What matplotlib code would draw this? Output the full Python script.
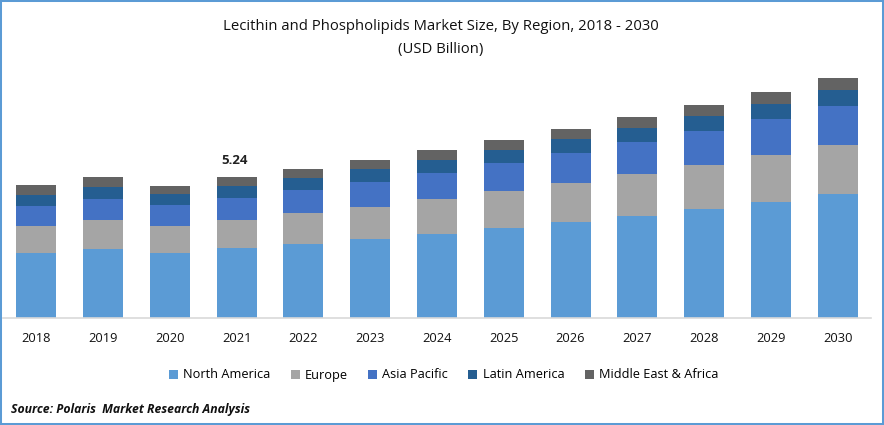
import matplotlib
matplotlib.use('Agg')
import matplotlib.pyplot as plt
import numpy as np
from matplotlib.patches import Rectangle

plt.rcParams['font.family'] = ['Open Sans', 'DejaVu Sans']

YEARS = ['2018', '2019', '2020', '2021', '2022', '2023', '2024', '2025', '2026', '2027', '2028', '2029', '2030']
NORTH_AMERICA = [2.42, 2.56, 2.42, 2.60, 2.75, 2.94, 3.12, 3.34, 3.57, 3.79, 4.05, 4.31, 4.61]
EUROPE = [1.00, 1.08, 1.00, 1.04, 1.15, 1.19, 1.30, 1.37, 1.45, 1.56, 1.64, 1.75, 1.82]
ASIA_PACIFIC = [0.74, 0.78, 0.78, 0.82, 0.85, 0.93, 0.97, 1.04, 1.11, 1.19, 1.26, 1.34, 1.45]
LATIN_AMERICA = [0.41, 0.45, 0.41, 0.45, 0.45, 0.48, 0.48, 0.48, 0.52, 0.52, 0.56, 0.56, 0.59]
MIDDLE_EAST = [0.37, 0.37, 0.30, 0.33, 0.33, 0.33, 0.37, 0.37, 0.37, 0.41, 0.41, 0.45, 0.45]

SERIES = [NORTH_AMERICA, EUROPE, ASIA_PACIFIC, LATIN_AMERICA, MIDDLE_EAST]
LABELS = ['North America', 'Europe', 'Asia Pacific', 'Latin America', 'Middle East & Africa']
COLORS = ['#5B9BD5', '#A5A5A5', '#4472C4', '#255E91', '#636363']
BORDER = '#5B9BD5'
W, H = 884, 425

fig = plt.figure(figsize=(W / 100, H / 100), dpi=100)
ax = fig.add_axes([3 / W, 1 - 318 / H, 868 / W, 268 / H])

x = np.arange(len(YEARS))
bottom = np.zeros(len(YEARS))
for values, label, color in zip(SERIES, LABELS, COLORS):
    ax.bar(x, values, 0.6, bottom=bottom, color=color, label=label)
    bottom += np.array(values)

ax.set_xlim(-0.5, len(YEARS) - 0.5)
ax.set_ylim(0, 268 * 5.24 / 141)
ax.set_yticks([])
ax.set_xticks(x, YEARS, fontsize=9.3, color='#111111')
ax.tick_params(axis='x', length=0, pad=10)
for side in ['top', 'left', 'right']:
    ax.spines[side].set_visible(False)
ax.spines['bottom'].set_color('#D9D9D9')
ax.spines['bottom'].set_linewidth(1.2)

# value label sits a little left of the bar centre in the original
ax.text(2.97, bottom[3] + 0.39, '5.24', ha='center', va='bottom', fontsize=9.5, fontweight='bold', color='#222222')

fig.text(441 / W, 1 - 26 / H, 'Lecithin and Phospholipids Market Size, By Region, 2018 - 2030',
         ha='center', va='center', fontsize=10.7, color='#111111')
fig.text(441 / W, 1 - 49 / H, '(USD Billion)', ha='center', va='center', fontsize=10.7, color='#111111')

fig.legend(loc='center', bbox_to_anchor=(443.5 / W, 1 - 375 / H), ncol=5, frameon=False, fontsize=9.2,
           handlelength=0.7, handleheight=0.7, handletextpad=0.4, columnspacing=1.6)

fig.text(11 / W, 1 - 409 / H, 'Source: Polaris  Market Research Analysis', ha='left', va='center',
         fontsize=8.8, fontweight='bold', fontstyle='italic', color='#111111')

fig.add_artist(Rectangle((0, 0), 1, 1, transform=fig.transFigure, fill=False, edgecolor=BORDER, linewidth=2.9))

fig.savefig('out.png', dpi=100)
